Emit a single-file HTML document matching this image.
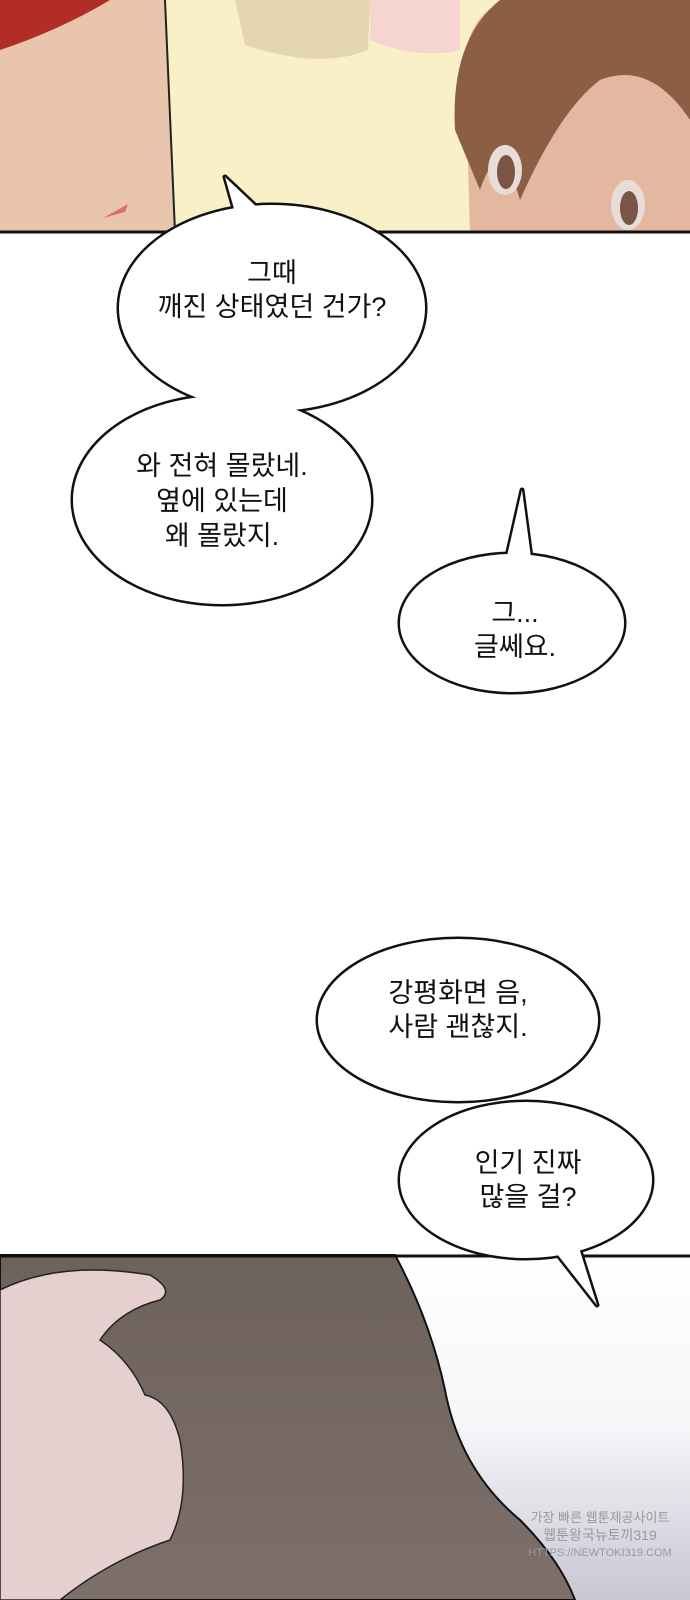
<!DOCTYPE html>
<html><head><meta charset="utf-8"><style>
html,body{margin:0;padding:0;background:#fff}
svg{display:block}
text{font-family:"Liberation Sans","Noto Sans CJK KR","NanumGothic",sans-serif;font-size:27px;fill:#111;text-anchor:middle}
</style></head><body>
<svg width="690" height="1600" viewBox="0 0 690 1600" xmlns="http://www.w3.org/2000/svg">
<defs>
<linearGradient id="bg2" x1="0" y1="0" x2="0" y2="1"><stop offset="0" stop-color="#ffffff"/><stop offset="0.5" stop-color="#f6f5f8"/><stop offset="1" stop-color="#c9c6d4"/></linearGradient>
<linearGradient id="hair" x1="0" y1="0" x2="0" y2="1"><stop offset="0" stop-color="#6e625c"/><stop offset="1" stop-color="#7d6f6a"/></linearGradient>
</defs>
<rect x="0" y="0" width="690" height="232" fill="#faf0c8"/>
<path d="M0 0 H165 L175 232 H0 Z" fill="#e9c5ae"/>
<path d="M0 0 H110 Q60 30 0 50 Z" fill="#b12d26"/>
<path d="M165 0 L175 232" stroke="#222" stroke-width="2" fill="none"/>
<path d="M235 0 H370 L368 50 Q320 70 245 45 Z" fill="#e4d6b3"/>
<path d="M370 0 H460 V50 Q420 60 370 40 Z" fill="#f6d4d0"/>
<path d="M470 232 L465 60 Q470 10 510 0 H690 V232 Z" fill="#e4b8a0"/>
<path d="M455 130 Q450 40 500 0 H690 V120 Q650 60 600 80 Q560 110 520 200 Q500 130 480 190 Z" fill="#8b5e45"/>
<ellipse cx="505" cy="170" rx="17" ry="25" fill="#e8dcd8"/><ellipse cx="506" cy="172" rx="9" ry="17" fill="#7a5444"/>
<ellipse cx="628" cy="205" rx="17" ry="25" fill="#e8dcd8"/><ellipse cx="629" cy="208" rx="9" ry="17" fill="#7a5444"/>
<path d="M103 218 L128 204 L125 212 Z" fill="#d9706a"/>
<line x1="0" y1="232" x2="690" y2="232" stroke="#111" stroke-width="3"/>
<rect x="0" y="1255" width="690" height="345" fill="url(#bg2)"/>
<path d="M0 1255 H395 Q430 1320 445 1390 Q460 1470 520 1520 Q560 1560 575 1600 H0 Z" fill="url(#hair)" stroke="#111" stroke-width="2"/>
<path d="M0 1290 Q60 1260 150 1275 Q175 1290 160 1300 Q120 1310 100 1340 Q130 1360 145 1395 Q170 1400 180 1440 Q190 1500 170 1540 Q110 1560 60 1600 H0 Z" fill="#e5cfcf" stroke="#222" stroke-width="1.5"/>
<line x1="0" y1="1256" x2="690" y2="1256" stroke="#111" stroke-width="3"/>
<text x="600" y="1522" style="font-size:13px;fill:#999">가장 빠른 웹툰제공사이트</text>
<text x="600" y="1540" style="font-size:14px;fill:#999">웹툰왕국뉴토끼319</text>
<text x="600" y="1556" style="font-size:11px;fill:#999">HTTPS://NEWTOKI319.COM</text>
<g stroke="#111" stroke-width="5" fill="#fff" stroke-linejoin="round">
<path d="M225 177 L262 212 L240 230 Z"/>
<ellipse cx="272" cy="308" rx="153" ry="103"/>
<ellipse cx="222" cy="500" rx="149" ry="104"/>
<path d="M522 490 L532 565 L505 565 Z"/>
<ellipse cx="512" cy="623" rx="112" ry="69"/>
<ellipse cx="458" cy="1020" rx="140" ry="81"/>
<ellipse cx="526" cy="1180" rx="126" ry="78"/>
<path d="M597 1305 L575 1235 L550 1245 Z"/>
</g>
<g fill="#fff">
<path d="M225 177 L262 212 L240 230 Z"/>
<ellipse cx="272" cy="308" rx="153" ry="103"/>
<ellipse cx="222" cy="500" rx="149" ry="104"/>
<path d="M522 490 L532 565 L505 565 Z"/>
<ellipse cx="512" cy="623" rx="112" ry="69"/>
<ellipse cx="458" cy="1020" rx="140" ry="81"/>
<ellipse cx="526" cy="1180" rx="126" ry="78"/>
<path d="M597 1305 L575 1235 L550 1245 Z"/>
</g>
<text x="272" y="282">그때</text>
<text x="272" y="316">깨진 상태였던 건가?</text>
<text x="222" y="475">와 전혀 몰랐네.</text>
<text x="222" y="510">옆에 있는데</text>
<text x="222" y="545">왜 몰랐지.</text>
<text x="515" y="622">그...</text>
<text x="515" y="656">글쎄요.</text>
<text x="458" y="1002">강평화면 음,</text>
<text x="458" y="1036">사람 괜찮지.</text>
<text x="528" y="1172">인기 진짜</text>
<text x="528" y="1206">많을 걸?</text>
</svg>
</body></html>
